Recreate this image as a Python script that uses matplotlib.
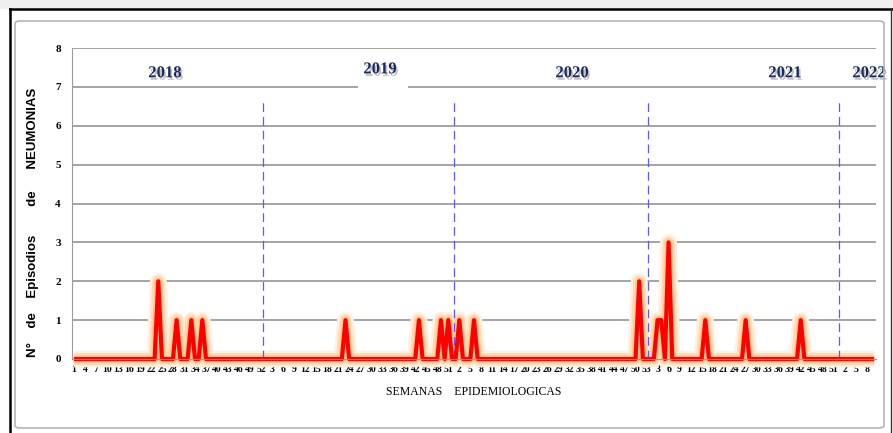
import numpy as np
import matplotlib
matplotlib.use("Agg")
import matplotlib.pyplot as plt
import matplotlib.patheffects as pe
from matplotlib.patches import FancyBboxPatch, Rectangle

# weekly pneumonia episodes, one list per year (index = week - 1)
cases_2018 = [0, 0, 0, 0, 0, 0, 0, 0, 0, 0, 0, 0, 0, 0, 0, 0, 0, 0, 0, 0,
              0, 0, 0, 2, 0, 0, 0, 0, 1, 0, 0, 0, 1, 0, 0, 1, 0, 0, 0, 0,
              0, 0, 0, 0, 0, 0, 0, 0, 0, 0, 0, 0]
cases_2019 = [0, 0, 0, 0, 0, 0, 0, 0, 0, 0, 0, 0, 0, 0, 0, 0, 0, 0, 0, 0,
              0, 0, 1, 0, 0, 0, 0, 0, 0, 0, 0, 0, 0, 0, 0, 0, 0, 0, 0, 0,
              0, 0, 1, 0, 0, 0, 0, 0, 1, 0, 1, 0]
cases_2020 = [0, 1, 0, 0, 0, 1, 0, 0, 0, 0, 0, 0, 0, 0, 0, 0, 0, 0, 0, 0,
              0, 0, 0, 0, 0, 0, 0, 0, 0, 0, 0, 0, 0, 0, 0, 0, 0, 0, 0, 0,
              0, 0, 0, 0, 0, 0, 0, 0, 0, 0, 2, 0, 0]
cases_2021 = [0, 0, 1, 1, 0, 3, 0, 0, 0, 0, 0, 0, 0, 0, 0, 1, 0, 0, 0, 0,
              0, 0, 0, 0, 0, 0, 1, 0, 0, 0, 0, 0, 0, 0, 0, 0, 0, 0, 0, 0,
              0, 1, 0, 0, 0, 0, 0, 0, 0, 0, 0, 0]
cases_2022 = [0, 0, 0, 0, 0, 0, 0, 0, 0, 0]

years = ["2018", "2019", "2020", "2021", "2022"]
yearly = [cases_2018, cases_2019, cases_2020, cases_2021, cases_2022]

values = []
week_labels = []
for yr in yearly:
    values += yr
    week_labels += [str(w + 1) for w in range(len(yr))]
x = np.arange(len(values))

# year boundaries (between last week of a year and first of the next)
bounds = np.cumsum([len(yr) for yr in yearly])[:-1] - 0.5

fig = plt.figure(figsize=(8.93, 4.33), dpi=100)
W, H = 893, 433

# outer frame decorations
fig.patches.append(Rectangle((0, 1 - 9 / H), 1, 9 / H, transform=fig.transFigure,
                             facecolor="#efefef", edgecolor="none", zorder=0))
fig.patches.append(FancyBboxPatch((15 / W, 5 / H), (884 - 15) / W, (412 - 5) / H,
                                  boxstyle="round,pad=0,rounding_size=0.006",
                                  transform=fig.transFigure, facecolor="none",
                                  edgecolor="#b5b5b5", linewidth=1.2, zorder=1))
fig.lines.append(plt.Line2D([10 / W, 10 / W], [0, 1 - 9 / H], transform=fig.transFigure,
                            color="black", linewidth=1.8))
fig.lines.append(plt.Line2D([10 / W, 1], [1 - 9 / H, 1 - 9 / H], transform=fig.transFigure,
                            color="black", linewidth=1.8))
fig.lines.append(plt.Line2D([891 / W, 891 / W], [0, 1 - 9 / H], transform=fig.transFigure,
                            color="#333333", linewidth=1.0))

ax = fig.add_axes([72 / W, 74 / H, (876 - 72) / W, (359 - 48) / H])
ax.set_xlim(-0.5, len(values) - 0.5)
ax.set_ylim(0, 8)

# horizontal grid (line at 7 is interrupted behind the 2019 label)
grid_c = "#8c8c8c"
for g in range(1, 9):
    if g == 7:
        ax.hlines(g, -0.5, 77.4, color=grid_c, linewidth=1.1, zorder=1)
        ax.hlines(g, 91.0, len(values) - 0.5, color=grid_c, linewidth=1.1, zorder=1)
    else:
        ax.hlines(g, -0.5, len(values) - 0.5, color=grid_c, linewidth=1.1, zorder=1)

# glowing red series
ax.plot(x, values, color="#fff0e2", linewidth=12, solid_capstyle="butt", zorder=3, clip_on=False)
ax.plot(x, values, color="#ffdcb8", linewidth=8.5, solid_capstyle="butt", zorder=3, clip_on=False)
ax.plot(x, values, color="#ffc690", linewidth=5.5, solid_capstyle="butt", zorder=3, clip_on=False)

# year separators
ax.vlines(bounds, 0, 6.7, colors="#5a5aff", linestyles=(0, (7, 4)), linewidth=0.9, zorder=3.5)

ax.plot(x, values, color="#ff0000", linewidth=3.0, solid_capstyle="butt", zorder=4, clip_on=False)

# year labels
year_pos = [(24.8, 7.35), (83.4, 7.45), (135.7, 7.35), (193.7, 7.35), (216.6, 7.35)]
for yl, (px, py) in zip(years, year_pos):
    ax.text(px, py, yl, ha="center", va="center", fontsize=12, fontweight="bold",
            family="Liberation Serif", color="#1b2a5e", clip_on=False, zorder=6,
            path_effects=[pe.withSimplePatchShadow(offset=(1.2, -1.8), shadow_rgbFace="#777777", alpha=0.45)])

for s in ["top", "right"]:
    ax.spines[s].set_visible(False)
ax.spines["left"].set_color("#9a9a9a")
ax.spines["bottom"].set_color("#9a9a9a")
ax.spines["bottom"].set_zorder(5)

ax.set_xticks(x[::3])
ax.set_xticklabels(week_labels[::3], fontsize=7, fontweight="bold", family="Liberation Serif")
ax.set_yticks(range(0, 9))
ax.set_yticklabels([str(v) for v in range(0, 9)], fontsize=8, fontweight="bold",
                   family="Liberation Serif")
ax.tick_params(axis="both", length=0)
ax.tick_params(axis="x", pad=4)
ax.tick_params(axis="y", pad=8)

ax.set_xlabel("SEMANAS    EPIDEMIOLOGICAS", fontsize=8.5, family="Liberation Serif", labelpad=9)
fig.text(33 / W, 1 - 222 / H, "N°    de    Episodios        de      NEUMONIAS", rotation=90,
         ha="center", va="center", fontsize=9.5, fontweight="bold", family="Liberation Sans")

fig.savefig("out.png", dpi=100)
